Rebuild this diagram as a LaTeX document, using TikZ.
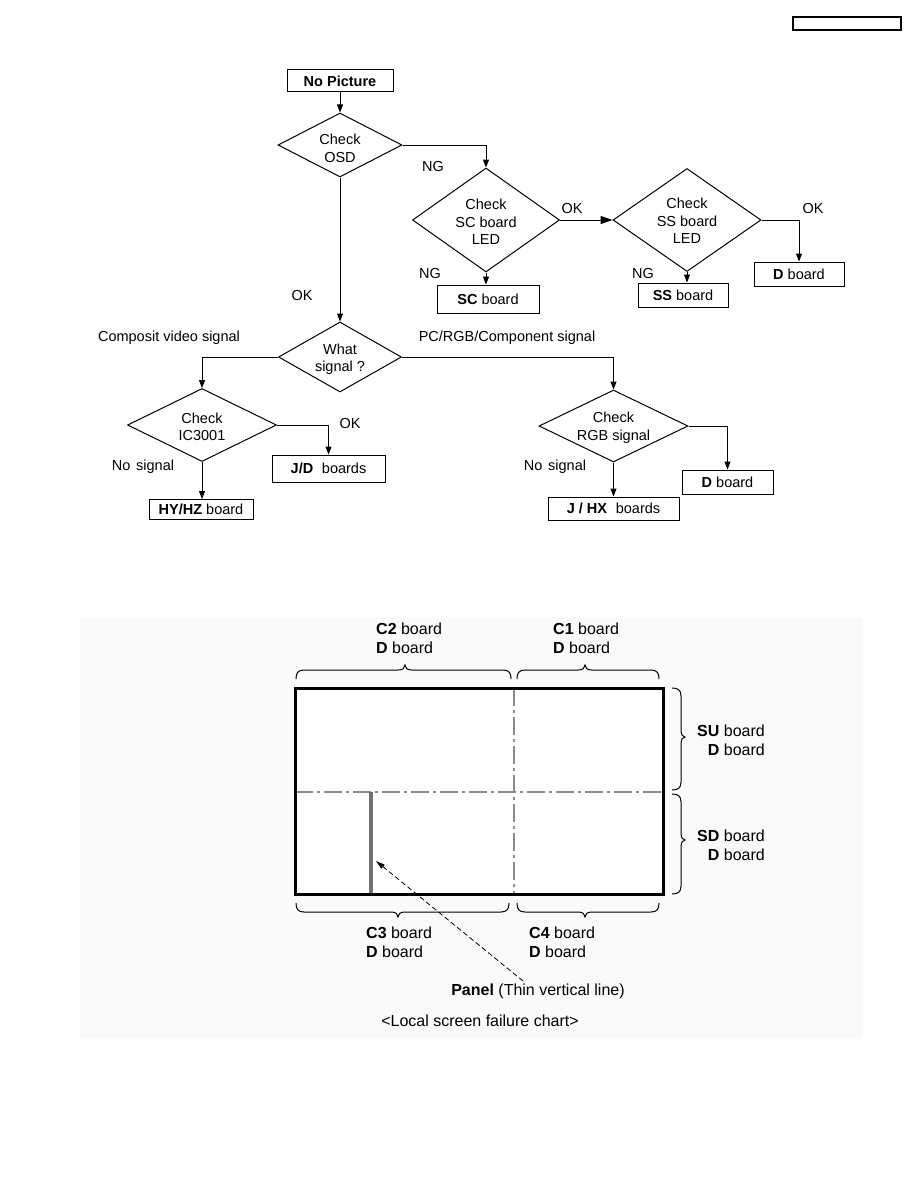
\documentclass[tikz,border=0pt]{standalone}
\usepackage{fontspec}
\setmainfont{Liberation Sans}
\usetikzlibrary{shapes.geometric,arrows.meta}
\newcommand\mybrh[5]{% x1,x2,xm,ybase,dir
\draw[brc] (#1,#4) .. controls (#1,{#4+#5*6}) and ({#1+2},{#4+#5*9}) .. ({#1+8},{#4+#5*9}) -- ({#3-7},{#4+#5*9}) .. controls ({#3-2},{#4+#5*9}) and (#3,{#4+#5*11}) .. (#3,{#4+#5*14}) .. controls (#3,{#4+#5*11}) and ({#3+2},{#4+#5*9}) .. ({#3+7},{#4+#5*9}) -- ({#2-8},{#4+#5*9}) .. controls ({#2-2},{#4+#5*9}) and (#2,{#4+#5*6}) .. (#2,#4);}
\newcommand\mybrv[5]{% y1,y2,ym,xbase,dir
\draw[brc] (#4,#1) .. controls ({#4+#5*6},#1) and ({#4+#5*9},{#1+2}) .. ({#4+#5*9},{#1+8}) -- ({#4+#5*9},{#3-7}) .. controls ({#4+#5*9},{#3-2}) and ({#4+#5*11},#3) .. ({#4+#5*13},#3) .. controls ({#4+#5*11},#3) and ({#4+#5*9},{#3+2}) .. ({#4+#5*9},{#3+7}) -- ({#4+#5*9},{#2-8}) .. controls ({#4+#5*9},{#2-2}) and ({#4+#5*6},#2) .. (#4,#2);}
\begin{document}
\begin{tikzpicture}[x=1pt,y=-1pt,
  every node/.style={font=\fontsize{14.5}{17.5}\selectfont, inner sep=0pt, align=center},
  dia/.style 2 args={draw, line width=1pt, shape=diamond, minimum width=#1, minimum height=#2},
  box/.style 2 args={draw, line width=1pt, rectangle, minimum width=#1, minimum height=#2},
  arr/.style={line width=1pt, -{Triangle[length=8pt,width=6pt]}},
  bigarr/.style={line width=1pt, -{Triangle[length=12pt,width=8pt]}},
  bt/.style={font=\fontsize{16}{19}\selectfont},
  brc/.style={line width=1pt},
  dd/.style={line width=1.5pt, black!45, dash pattern=on 18pt off 4pt on 3pt off 4pt}]
\path[use as bounding box] (0,0) rectangle (918,1188);
\fill[white] (0,0) rectangle (918,1188);

% header box
\node[box={108}{13}, line width=1.3pt] (hdr) at (847,23.5) {};

% ---------- flowchart ----------
\node[box={106}{22}, font=\fontsize{14.5}{17.5}\selectfont\bfseries] (nopic) at (340,81) {No Picture};

\node[dia={124}{64}] (osd) at (340,145) {};
\node (osdt) at (340,148.5) {Check\\OSD};

\node[dia={147}{104}] (sc) at (486,220) {};
\node (sct) at (486,222) {Check\\SC board\\LED};

\node[dia={148}{103}] (ss) at (687,220) {};
\node (sst) at (687,221) {Check\\SS board\\LED};

\node[box={102}{28}] (scb) at (488,299) {\textbf{SC} board};
\node[box={90}{24}] (ssb) at (683,295) {\textbf{SS} board};
\node[box={90}{24}] (db1) at (799,274) {\textbf{D} board};

\node[dia={123}{70}] (what) at (340,357) {};
\node (whatt) at (340,359) {What\\signal ?};

\node[dia={149}{73}] (ic) at (202,425) {};
\node (ict) at (202,427) {Check\\IC3001};

\node[dia={149}{72}] (rgb) at (613.5,426) {};
\node (rgbt) at (613.5,427.5) {Check\\RGB signal};

\node[box={113}{27}] (jd) at (328.5,468.5) {\textbf{J/D}\hspace{0.6em}boards};
\node[box={104}{20}] (hy) at (201,509.5) {\textbf{HY/HZ} board};
\node[box={91}{24}] (db2) at (727.5,482) {\textbf{D} board};
\node[box={131}{23}] (jhx) at (613.5,508.5) {\textbf{J / HX}\hspace{0.6em}boards};

% labels
\node (ng1) at (433,167) {NG};
\node (ng2) at (430,274) {NG};
\node (ok1) at (572,209) {OK};
\node (ng3) at (643,274) {NG};
\node (ok2) at (813,209) {OK};
\node (ok3) at (302,296) {OK};
\node (cvs) at (169,338) {Composit video signal};
\node (pcs) at (507,338) {PC/RGB/Component signal};
\node (ok4) at (350,424) {OK};
\node (ns1) at (143,467) {No\hspace{0.4em}signal};
\node (ns2) at (555,467) {No\hspace{0.4em}signal};

% connectors
\draw[arr] (nopic) -- (osd);
\draw[arr] (osd.east) -| (sc.north);
\draw[arr] (sc.south) -- (sc.south |- scb.north);
\draw[bigarr] (sc.east) -- (ss.west);
\draw[arr] (ss.east) -| (db1.north);
\draw[arr] (ss.south) -- (ss.south |- ssb.north);
\draw[arr] (osd.south) -- (what.north);
\draw[arr] (what.west) -| (ic.north);
\draw[arr] (what.east) -| (rgb.north);
\draw[arr] (ic.east) -| (jd.north);
\draw[arr] (ic.south) -- (ic.south |- hy.north);
\draw[arr] (rgb.east) -| (db2.north);
\draw[arr] (rgb.south) -- (rgb.south |- jhx.north);

% ---------- local screen failure chart ----------
\fill[black!2] (80,618) rectangle (863,1039);
\fill[white] (295,688) rectangle (663,894);
\draw[dd] (514,688) -- (514,894);
\draw[dd] (295,792) -- (663,792);
\draw[line width=4.5pt, black!55] (371,792) -- (371,893);
\node[draw, line width=3pt, minimum width=368, minimum height=206] (panel) at (479,791) {};

\mybrh{296}{511}{405}{679}{-1}
\mybrh{517}{659}{585}{679}{-1}
\mybrh{296}{509}{398}{903}{1}
\mybrh{517}{659}{585}{903}{1}
\mybrv{688}{790}{737}{672}{1}
\mybrv{794}{894}{840}{672}{1}

\node[bt, anchor=west, align=left] (c2) at (376,638.5) {\textbf{C2} board\\\textbf{D} board};
\node[bt, anchor=west, align=left] (c1) at (553,638.5) {\textbf{C1} board\\\textbf{D} board};
\node[bt, anchor=east, align=right] (su) at (765,740) {\textbf{SU} board\\\textbf{D} board};
\node[bt, anchor=east, align=right] (sd) at (765,845.5) {\textbf{SD} board\\\textbf{D} board};
\node[bt, anchor=west, align=left] (c3) at (366,942.5) {\textbf{C3} board\\\textbf{D} board};
\node[bt, anchor=west, align=left] (c4) at (529,942.5) {\textbf{C4} board\\\textbf{D} board};
\node[bt] (pnl) at (538,991) {\textbf{Panel} (Thin vertical line)};
\node[bt] (cap) at (480,1021) {<Local screen failure chart>};

\coordinate (pa) at (523,981);
\coordinate (pb) at (376,861);
\draw[line width=0.8pt, dash pattern=on 5pt off 3pt, -{Triangle[length=9pt,width=5pt]}] (pa) -- (pb);
\end{tikzpicture}
\end{document}
